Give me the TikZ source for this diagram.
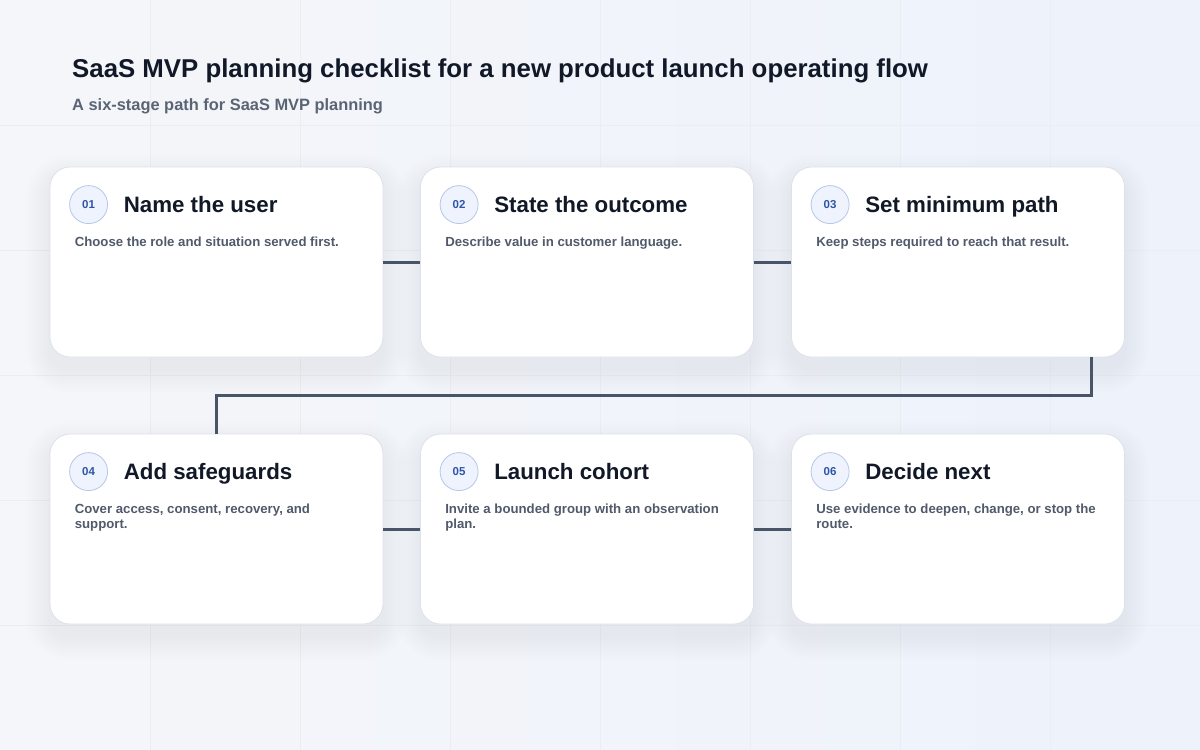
\documentclass[tikz,border=0pt]{standalone}
\usepackage{fontspec}
\setmainfont{Liberation Sans}
\usetikzlibrary{positioning,backgrounds}
\definecolor{bgA}{HTML}{F5F6F9}
\definecolor{bgB}{HTML}{EDF2FB}
\definecolor{gridc}{HTML}{E9EDF4}
\definecolor{cardline}{HTML}{DCE2EB}
\definecolor{shadowc}{HTML}{56617A}
\definecolor{badgefill}{HTML}{EEF3FD}
\definecolor{badgeline}{HTML}{B7C7E6}
\definecolor{badgetext}{HTML}{2E56A6}
\definecolor{titlec}{HTML}{111827}
\definecolor{descc}{HTML}{515A6A}
\definecolor{subc}{HTML}{5B6474}
\definecolor{linkc}{HTML}{485568}
\begin{document}
\begin{tikzpicture}[x=1pt,y=-1pt,line cap=butt,line join=miter]
	\tikzset{card/.style={draw=cardline,fill=white,line width=.8pt,rounded corners=20pt,
			minimum width=333pt,minimum height=190pt,inner sep=0pt},
		badge/.style={circle,draw=badgeline,fill=badgefill,line width=.8pt,minimum size=38pt,
			inner sep=0pt,text=badgetext,font=\fontsize{11.5}{13}\selectfont\bfseries},
		cardtitle/.style={anchor=base west,inner sep=0pt,text=titlec,
			font=\fontsize{22.3}{26}\selectfont\bfseries},
		carddesc/.style={anchor=north west,inner sep=0pt,align=left,text=descc,
			font=\fontsize{13.2}{15.5}\selectfont\bfseries},
		link/.style={draw=linkc,line width=3pt}}
	\useasboundingbox (0,0) rectangle (1200,750);
	\node[anchor=base west,inner sep=0pt,text=titlec,font=\fontsize{25.8}{30}\selectfont\bfseries]
		(head) at (72,77) {SaaS MVP planning checklist for a new product launch operating flow};
	\node[anchor=base west,inner sep=0pt,text=subc,font=\fontsize{16.4}{19}\selectfont\bfseries]
		(subhead) at (72,110) {A six-stage path for SaaS MVP planning};
	\foreach \i/\cx/\cy/\ttl/\dsc in {
			1/216.5/262/Name the user/Choose the role and situation served first.,
			2/587/262/State the outcome/Describe value in customer language.,
			3/958/262/Set minimum path/Keep steps required to reach that result.,
			4/216.5/529/Add safeguards/{Cover access, consent, recovery, and\\support.},
			5/587/529/Launch cohort/{Invite a bounded group with an observation\\plan.},
			6/958/529/Decide next/{Use evidence to deepen, change, or stop the\\route.}}{
			\node[card] (card\i) at (\cx,\cy) {};
			\node[badge] (badge\i) at ([shift={(39,38)}]card\i.north west) {0\i};
			\node[cardtitle] (title\i) at ([shift={(74,46)}]card\i.north west) {\ttl};
			\node[carddesc] (desc\i) at ([shift={(25,70)}]card\i.north west) {\dsc};}
	\draw[link] (card1) -- (card2);
	\draw[link] (card2) -- (card3);
	\draw[link] ([xshift=-33pt]card3.south east) -- ++(0,38) -| (card4.north);
	\draw[link] (card4) -- (card5);
	\draw[link] (card5) -- (card6);
	\begin{scope}[on background layer]
		\shade[left color=bgA,right color=bgB] (0,0) rectangle (1200,750);
		\foreach \gx in {150,300,...,1050}{
				\draw[gridc,line width=.6pt] (\gx,0) -- (\gx,750);}
		\foreach \gy in {125,250,...,625}{
				\draw[gridc,line width=.6pt] (0,\gy) -- (1200,\gy);}
		% soft shadow under each card
		\foreach \i in {1,...,6}{
				\foreach \s in {2,4,...,24}{
						\pgfmathsetmacro\r{20+\s}
						\fill[shadowc,opacity=.0045,rounded corners=\r pt]
						([shift={(-\s,12-\s)}]card\i.north west) rectangle ([shift={(\s,12+\s)}]card\i.south east);}}
	\end{scope}
\end{tikzpicture}
\end{document}
